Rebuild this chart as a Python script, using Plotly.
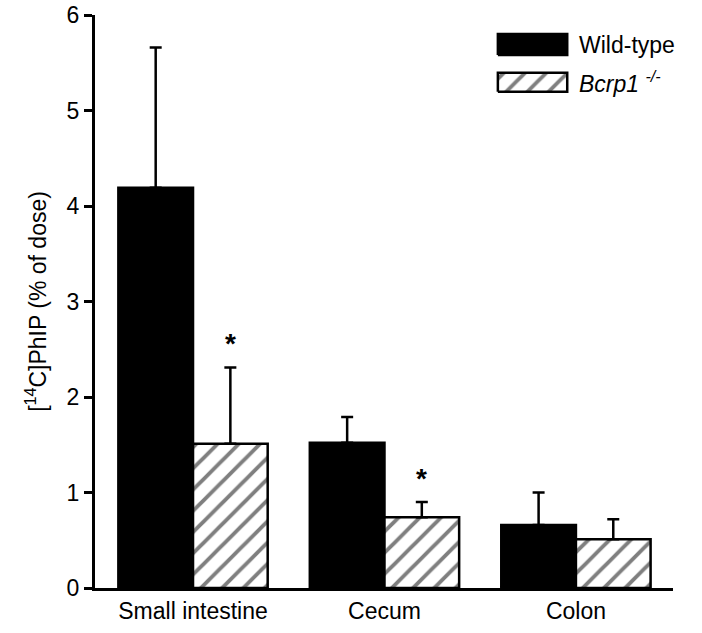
import plotly.graph_objects as go

# ---- data ----
categories = ["Small intestine", "Cecum", "Colon"]
wt_mean = [4.19, 1.52, 0.66]
wt_sd = [1.47, 0.27, 0.34]
ko_mean = [1.51, 0.74, 0.51]
ko_sd = [0.80, 0.16, 0.21]
ko_signif = [True, True, False]
series_names = ["Wild-type", "<i>Bcrp1</i> <sup><i>-/-</i></sup>"]
y_ticks = [0, 1, 2, 3, 4, 5, 6]

FONT = "Liberation Sans, Arial, sans-serif"
FS = 23
BARGAP = 0.22
x_idx = list(range(len(categories)))
HATCH = dict(shape="/", size=15, solidity=0.26, fgcolor="black", bgcolor="white")

fig = go.Figure()
fig.add_trace(go.Bar(
    x=x_idx, y=wt_mean, name=series_names[0],
    marker=dict(color="black", line=dict(color="black", width=2.5)),
    error_y=dict(type="data", array=wt_sd, arrayminus=[0] * 3, symmetric=False,
                 color="black", thickness=2.5, width=6),
    showlegend=False,
))
fig.add_trace(go.Bar(
    x=x_idx, y=ko_mean, name=series_names[1],
    marker=dict(color="white", line=dict(color="black", width=2.5), pattern=HATCH),
    error_y=dict(type="data", array=ko_sd, arrayminus=[0] * 3, symmetric=False,
                 color="black", thickness=2.5, width=6),
    showlegend=False,
))

# significance asterisks above the knockout error bars
for i, sig in enumerate(ko_signif):
    if sig:
        fig.add_annotation(
            x=i + (1 - BARGAP) / 4, y=ko_mean[i] + ko_sd[i], xref="x", yref="y",
            text="<b>*</b>", showarrow=False, yanchor="bottom", yshift=6,
            font=dict(family=FONT, size=28, color="black"),
        )

# ---- manual legend (large swatches) on an overlay paper-like axis ----
leg_x0, leg_x1 = 0.697, 0.817
leg_rows = [(0.930, 0.967), (0.866, 0.899)]
leg_fill = [dict(fillcolor="black"), dict(fillcolor="white", fillpattern=HATCH)]
for (y0, y1), name, fill in zip(leg_rows, series_names, leg_fill):
    fig.add_trace(go.Scatter(
        x=[leg_x0, leg_x1, leg_x1, leg_x0, leg_x0], y=[y0, y0, y1, y1, y0],
        xaxis="x2", yaxis="y2", mode="lines", fill="toself",
        line=dict(color="black", width=2.5), showlegend=False, hoverinfo="skip", **fill,
    ))
    fig.add_annotation(
        x=leg_x1 + 0.017, y=(y0 + y1) / 2, xref="paper", yref="paper",
        text=name, showarrow=False, xanchor="left", yanchor="middle",
        font=dict(family=FONT, size=FS, color="black"),
    )

fig.update_layout(
    width=702, height=633,
    margin=dict(l=95, r=29, t=15, b=45),
    paper_bgcolor="white", plot_bgcolor="white",
    barmode="group", bargap=BARGAP, bargroupgap=0,
    font=dict(family=FONT, size=FS, color="black"),
    xaxis=dict(
        tickmode="array", tickvals=x_idx, ticktext=categories,
        range=[-0.512, 2.507], showline=True, linecolor="black", linewidth=3,
        ticks="", showgrid=False, zeroline=False, fixedrange=True, automargin=False,
        tickfont=dict(family=FONT, size=FS),
    ),
    yaxis=dict(
        range=[0, 6], tickvals=y_ticks, showline=True, linecolor="black", linewidth=3,
        ticks="outside", ticklen=8, tickwidth=2.5, tickcolor="black",
        showgrid=False, zeroline=False, automargin=False, ticklabeloverflow="allow",
        title=dict(text="[<sup>14</sup>C]PhIP (% of dose)", font=dict(family=FONT, size=FS), standoff=14),
        tickfont=dict(family=FONT, size=FS),
    ),
    xaxis2=dict(overlaying="x", range=[0, 1], visible=False, fixedrange=True),
    yaxis2=dict(overlaying="y", range=[0, 1], visible=False, fixedrange=True),
)

fig.write_html("out.html", config={"displayModeBar": False},
               post_script="document.body.style.margin='0';")
